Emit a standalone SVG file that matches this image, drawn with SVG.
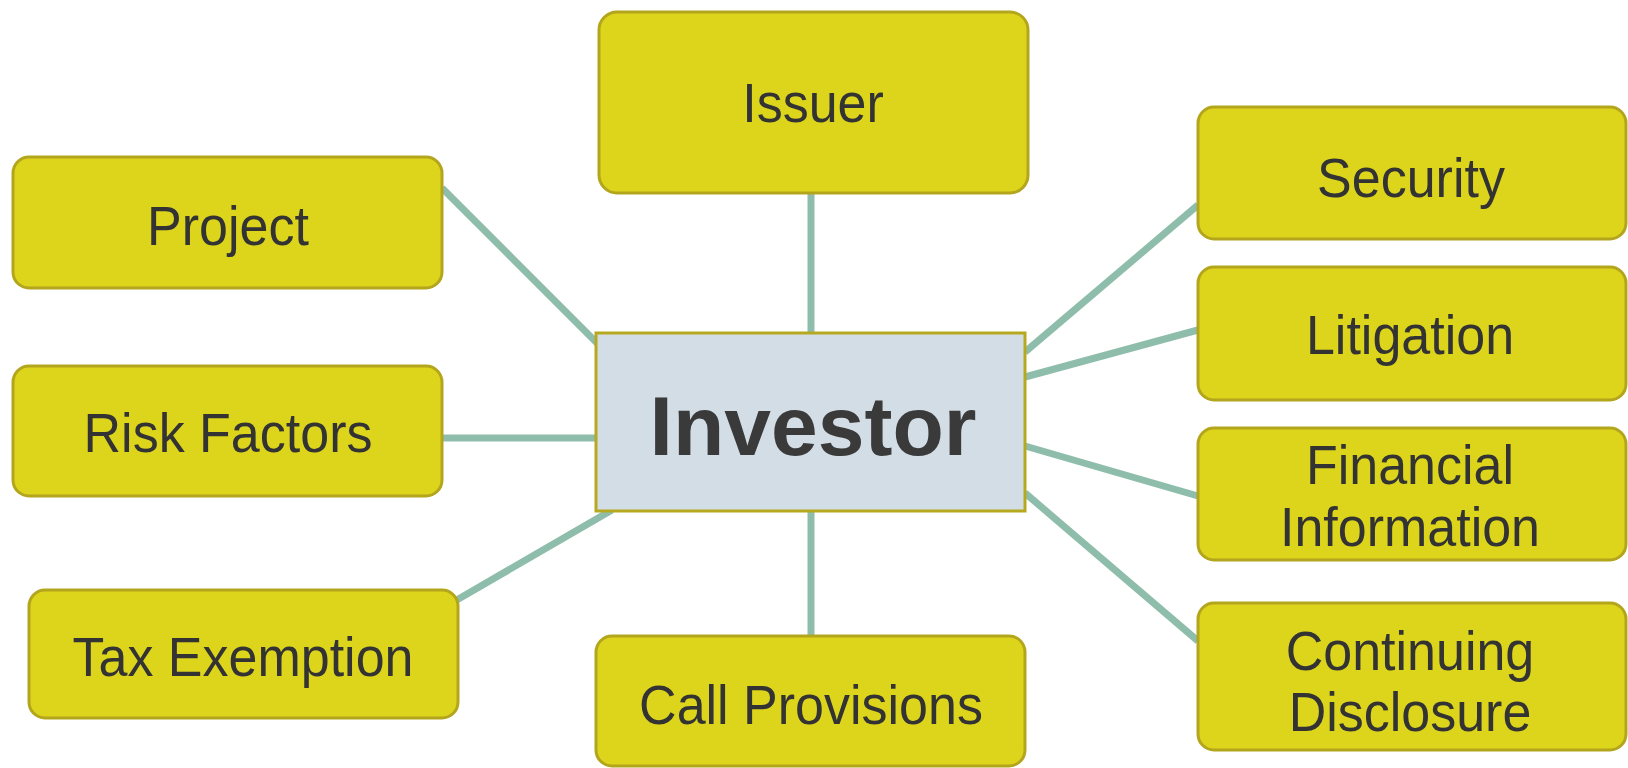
<svg xmlns="http://www.w3.org/2000/svg" width="1628" height="768" viewBox="0 0 1628 768">
<style>
.box{fill:#ddd51c;stroke:#b3a51c;stroke-width:3}
.center{fill:#d2dde5;stroke:#b7a91f;stroke-width:3}
.lbl{font-family:"Liberation Sans",Arial,sans-serif;font-size:52px;fill:#333333;text-anchor:middle}
.big{font-family:"Liberation Sans",Arial,sans-serif;font-size:84px;font-weight:bold;fill:#3a3a3a;text-anchor:middle}
.conn{stroke:#8fbdab;stroke-width:7;fill:none}
</style>
<rect width="1628" height="768" fill="#ffffff"/>
<g id="connectors">
<line class="conn" x1="811" y1="193" x2="811" y2="333"/>
<line class="conn" x1="442" y1="188" x2="599" y2="345"/>
<line class="conn" x1="1025" y1="352" x2="1198" y2="205"/>
<line class="conn" x1="1025" y1="377" x2="1198" y2="330"/>
<line class="conn" x1="442" y1="438" x2="596" y2="438"/>
<line class="conn" x1="1025" y1="446" x2="1198" y2="496"/>
<line class="conn" x1="612" y1="510" x2="455" y2="601"/>
<line class="conn" x1="811" y1="511" x2="811" y2="636"/>
<line class="conn" x1="1025" y1="493" x2="1198" y2="641"/>
</g>
<g id="issuer"><rect class="box" x="599" y="12" width="429" height="181" rx="18"/><text class="lbl" transform="matrix(1 0 0 1.08 813 122)">Issuer</text></g>
<g id="project"><rect class="box" x="13" y="157" width="429" height="131" rx="16"/><text class="lbl" transform="matrix(1 0 0 1.08 228 245)">Project</text></g>
<g id="security"><rect class="box" x="1198" y="107" width="428" height="132" rx="16"/><text class="lbl" transform="matrix(1 0 0 1.08 1411 197)">Security</text></g>
<g id="litigation"><rect class="box" x="1198" y="267" width="428" height="133" rx="16"/><text class="lbl" transform="matrix(1 0 0 1.08 1410 354)">Litigation</text></g>
<g id="risk-factors"><rect class="box" x="13" y="366" width="429" height="130" rx="16"/><text class="lbl" transform="matrix(1 0 0 1.08 228 452)">Risk Factors</text></g>
<g id="investor"><rect class="center" x="596" y="333" width="429" height="178"/><text class="big" x="813" y="455">Investor</text></g>
<g id="financial-information"><rect class="box" x="1198" y="428" width="428" height="132" rx="16"/><text class="lbl" transform="matrix(1 0 0 1.08 1410 484)">Financial</text><text class="lbl" transform="matrix(1 0 0 1.08 1410 546)">Information</text></g>
<g id="tax-exemption"><rect class="box" x="29" y="590" width="429" height="128" rx="16"/><text class="lbl" transform="matrix(1 0 0 1.08 243 676)">Tax Exemption</text></g>
<g id="call-provisions"><rect class="box" x="596" y="636" width="429" height="130" rx="16"/><text class="lbl" transform="matrix(1 0 0 1.08 811 724)">Call Provisions</text></g>
<g id="continuing-disclosure"><rect class="box" x="1198" y="603" width="428" height="147" rx="16"/><text class="lbl" transform="matrix(1 0 0 1.08 1410 670)">Continuing</text><text class="lbl" transform="matrix(1 0 0 1.08 1410 731)">Disclosure</text></g>
</svg>
